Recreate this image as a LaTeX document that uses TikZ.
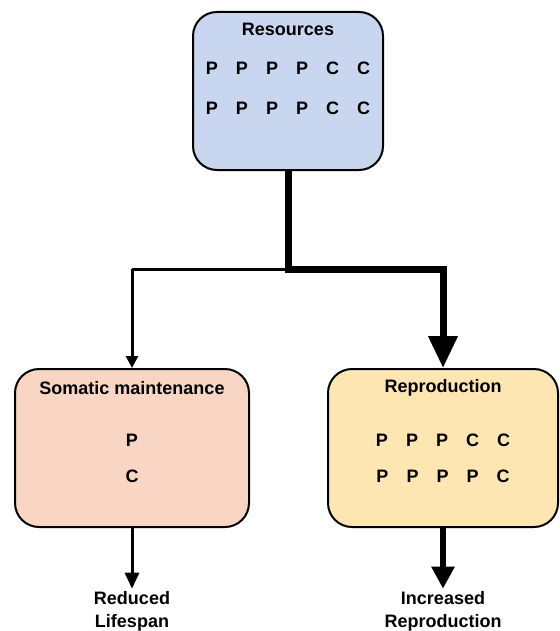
\documentclass[tikz,border=0pt]{standalone}
\usepackage{fontspec}
\setmainfont{Liberation Sans}
\usetikzlibrary{arrows.meta}
\usepackage{xcolor}
\definecolor{resblue}{HTML}{C8D7EF}
\definecolor{somapeach}{HTML}{F9D6C4}
\definecolor{repyellow}{HTML}{FDE6B2}

\tikzset{
  box/.style={draw=black, line width=1pt, rounded corners=12pt, minimum height=79pt, inner sep=0pt},
  lbl/.style={font=\fontsize{9}{11.5}\selectfont\bfseries, inner sep=1pt, align=center},
  thinarr/.style={line width=1.5pt, -{Triangle[length=6pt,width=6pt]}},
  thickarr/.style={line width=3.5pt, -{Triangle[length=16pt,width=14pt]}}
}

\begin{document}
\begin{tikzpicture}[x=0.5pt,y=-0.5pt]
\useasboundingbox (0,0) rectangle (559,631);
% boxes
\node[box, fill=resblue, minimum width=95pt] (res) at (288,91) {};
\node[box, fill=somapeach, minimum width=117pt] (soma) at (132,448) {};
\node[box, fill=repyellow, minimum width=115pt] (repro) at (443,448) {};
% titles and contents
\node[lbl] (restitle) at (288,29) {Resources};
\node[lbl] (resrow1) at (288,68) {P\quad P\quad P\quad P\quad C\quad C};
\node[lbl] (resrow2) at (288,108) {P\quad P\quad P\quad P\quad C\quad C};
\node[lbl] (somatitle) at (132,388) {Somatic maintenance};
\node[lbl] (somap) at (132,440) {P};
\node[lbl] (somac) at (132,476) {C};
\node[lbl] (reprotitle) at (443,388) {Reproduction};
\node[lbl] (reprorow1) at (443,440) {P\quad P\quad P\quad C\quad C};
\node[lbl] (reprorow2) at (443,476) {P\quad P\quad P\quad P\quad C};
% outcomes
\node[lbl] (lifespan) at (132,611) {Reduced\\Lifespan};
\node[lbl] (moreoff) at (443,611) {Increased\\Reproduction};
% connectors
\coordinate (split) at (288,269);
\draw[line width=1.5pt] (split) -- (132,269);
\draw[thinarr] (132,269) -- (soma.north);
\draw[thickarr, line join=miter] (res.south) -- (split) -| (repro.north);
\draw[thinarr, -{Triangle[length=8pt,width=7pt]}] (soma.south) -- (lifespan.north);
\draw[line width=3pt, -{Triangle[length=11pt,width=11pt]}] (repro.south) -- (moreoff.north);
\end{tikzpicture}
\end{document}
